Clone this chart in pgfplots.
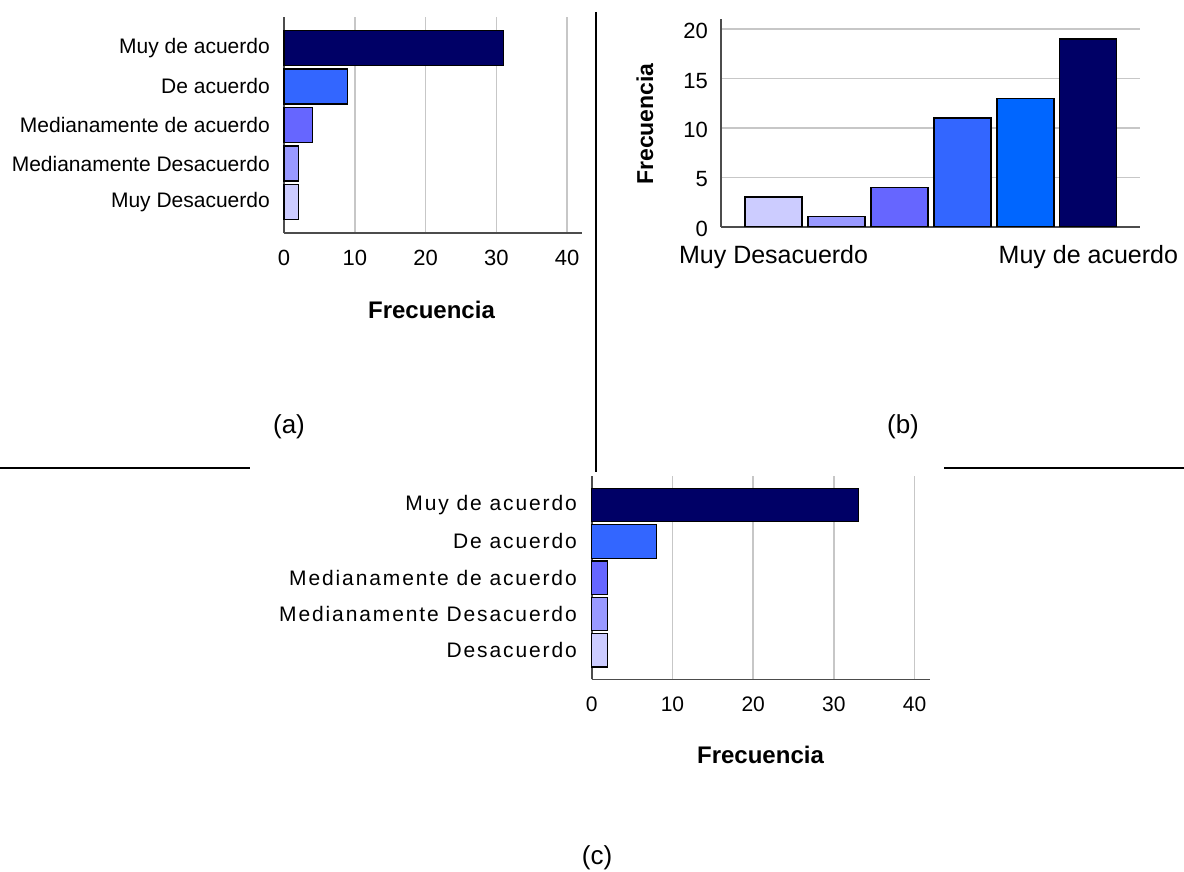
\documentclass[border=0pt]{standalone}
\usepackage{fontspec}
\setmainfont{Liberation Sans}
\newfontfamily\spaced[LetterSpace=9]{Liberation Sans}
\usepackage{pgfplots}
\pgfplotsset{compat=1.18}
\definecolor{cA}{HTML}{CCCCFF}
\definecolor{cB}{HTML}{9999FF}
\definecolor{cC}{HTML}{6666FF}
\definecolor{cD}{HTML}{3366FF}
\definecolor{cE}{HTML}{0066FF}
\definecolor{cF}{HTML}{000066}
\pgfplotsset{
  myaxis/.style={
    scale only axis,
    axis x line=bottom, axis y line=left,
    axis line style={-, draw=black!70, line width=1.6pt},
    grid style={draw=black!22, line width=1.6pt},
    major tick length=0pt,
    /pgf/number format/assume math mode=true,
    clip=false,
  },
  mybar/.style={draw=black, line width=1.2pt, bar shift=0pt},
}
\begin{document}
\begin{tikzpicture}
\path[use as bounding box] (0pt,0pt) rectangle (1184pt,-872pt);

% ---------- (a) ----------
\begin{axis}[myaxis, at={(284pt,-233pt)}, anchor=south west,
  width=298pt, height=216pt,
  xmin=0, xmax=42.1, ymin=-0.8, ymax=4.8,
  xtick={0,10,20,30,40}, xmajorgrids,
  ytick={0,1,2,3,4},
  yticklabels={Muy Desacuerdo, Medianamente Desacuerdo, Medianamente de acuerdo, De acuerdo, Muy de acuerdo},
  yticklabel style={anchor=east, inner sep=0pt, xshift=-14pt, font=\fontsize{21}{23}\selectfont},
  xticklabel style={anchor=base, inner sep=0pt, yshift=-32pt, font=\fontsize{22}{24}\selectfont},
  xbar, bar width=35pt,
  every axis plot post/.append style={bar shift=0pt}]
\addplot[mybar, fill=cA] coordinates {(2,0)};
\addplot[mybar, fill=cB] coordinates {(2,1)};
\addplot[mybar, fill=cC] coordinates {(4,2)};
\addplot[mybar, fill=cD] coordinates {(9,3)};
\addplot[mybar, fill=cF] coordinates {(31,4)};
\end{axis}
\node[font=\fontsize{24}{26}\selectfont\bfseries] at (431.5pt,-310pt) {Frecuencia};

% ---------- (b) ----------
\begin{axis}[myaxis, at={(720.7pt,-226.7pt)}, anchor=south west,
  width=419.3pt, height=207.4pt,
  xmin=-0.84, xmax=5.82, ymin=0, ymax=21,
  ytick={0,5,10,15,20}, ymajorgrids,
  xtick={0,5}, xticklabels={Muy Desacuerdo, Muy de acuerdo},
  xticklabel style={anchor=base, inner sep=0pt, yshift=-36.6pt, font=\fontsize{25}{27}\selectfont},
  yticklabel style={anchor=east, inner sep=0pt, xshift=-12.7pt, yshift=-2pt, font=\fontsize{22}{24}\selectfont},
  ybar, bar width=57pt,
  every axis plot post/.append style={bar shift=0pt}]
\addplot[mybar, fill=cA] coordinates {(0,3)};
\addplot[mybar, fill=cB] coordinates {(1,1)};
\addplot[mybar, fill=cC] coordinates {(2,4)};
\addplot[mybar, fill=cD] coordinates {(3,11)};
\addplot[mybar, fill=cE] coordinates {(4,13)};
\addplot[mybar, fill=cF] coordinates {(5,19)};
\end{axis}
\node[rotate=90, font=\fontsize{23}{25}\selectfont\bfseries] at (645pt,-124pt) {Frecuencia};

% ---------- (c) ----------
\begin{axis}[myaxis, at={(591.7pt,-679.3pt)}, anchor=south west,
  width=338.3pt, height=203.3pt,
  xmin=0, xmax=41.9, ymin=-0.8, ymax=4.8,
  xtick={0,10,20,30,40}, xmajorgrids,
  ytick={0,1,2,3,4},
  yticklabels={Desacuerdo, Medianamente Desacuerdo, Medianamente de acuerdo, De acuerdo, Muy de acuerdo},
  yticklabel style={anchor=east, inner sep=0pt, xshift=-14.7pt, font=\fontsize{21}{23}\spaced\selectfont},
  xticklabel style={anchor=base, inner sep=0pt, yshift=-32pt, font=\fontsize{21}{23}\selectfont},
  xbar, bar width=33.5pt,
  every axis plot post/.append style={bar shift=0pt}]
\addplot[mybar, fill=cA] coordinates {(2,0)};
\addplot[mybar, fill=cB] coordinates {(2,1)};
\addplot[mybar, fill=cC] coordinates {(2,2)};
\addplot[mybar, fill=cD] coordinates {(8,3)};
\addplot[mybar, fill=cF] coordinates {(33,4)};
\end{axis}
\node[font=\fontsize{24}{26}\selectfont\bfseries] at (760.5pt,-755pt) {Frecuencia};

% ---------- captions and separators ----------
\node[font=\fontsize{26}{28}\selectfont] at (289pt,-427pt) {(a)};
\node[font=\fontsize{26}{28}\selectfont] at (903pt,-427pt) {(b)};
\node[font=\fontsize{26}{28}\selectfont] at (597pt,-858pt) {(c)};
\draw[line width=1.5pt] (596pt,-12pt) -- (596pt,-472pt);
\draw[line width=1.5pt] (0pt,-468pt) -- (250pt,-468pt);
\draw[line width=1.5pt] (944pt,-468pt) -- (1184pt,-468pt);
\end{tikzpicture}
\end{document}
